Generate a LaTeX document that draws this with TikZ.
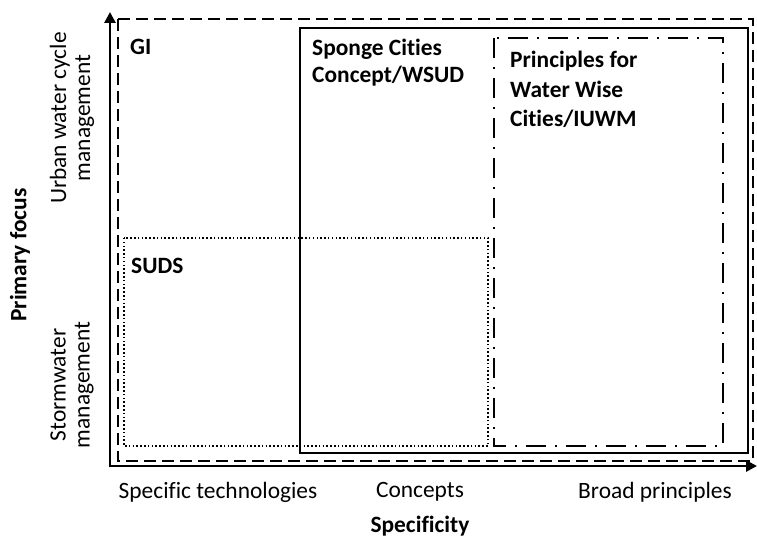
\documentclass[tikz,border=0pt]{standalone}
\usepackage{fontspec}
\setmainfont{Carlito}[Ligatures={NoCommon}]
\usetikzlibrary{arrows.meta}
\begin{document}
\begin{tikzpicture}[x=1bp,y=-1bp,
  lbl/.style={font=\fontsize{23.5}{25}\selectfont, inner sep=0pt},
  boxlbl/.style={inner sep=0pt, anchor=north west, align=left},
  axis/.style={line width=2.8pt, -{Triangle[length=11bp,width=11bp]}},
  outerbox/.style={line width=1.4pt, dash pattern=on 12bp off 6bp},
  conceptbox/.style={line width=1.8pt},
  principlebox/.style={line width=1.8pt, dash pattern=on 20bp off 9bp on 2bp off 9bp},
  sudsbox/.style={line width=1.5pt, dash pattern=on 1.5bp off 2.3bp}]
\useasboundingbox (0,0) rectangle (757,539);

% axes
\coordinate (origin) at (108,466);
\coordinate (ytop) at (110,12);
\coordinate (xend) at (757,466);
\draw[axis] (110,467.4) -- (ytop);
\draw[axis] (108.6,466) -- (xend);

% nested scope boxes
\draw[outerbox] (118,19) rectangle (753,461);
\draw[conceptbox] (300,28) rectangle (748,453);
\draw[principlebox] (494,38) rectangle (723,446);
\draw[sudsbox] (124,238) rectangle (488,446);

% box titles
\node[boxlbl, font=\fontsize{23.5}{27}\selectfont\bfseries] (gi) at (130,39) {GI};
\node[boxlbl, font=\fontsize{23.5}{27}\selectfont\bfseries] (sponge) at (312,39) {Sponge Cities\\Concept/WSUD};
\node[boxlbl, font=\fontsize{23.5}{29.5}\selectfont\bfseries] (ww) at (510,51) {Principles for\\Water Wise\\Cities/IUWM};
\node[boxlbl, font=\fontsize{23.5}{27}\selectfont\bfseries] (suds) at (131,258) {SUDS};

% x-axis categories
\node[lbl] (spec) at (218,492) {Specific technologies};
\node[lbl] (conc) at (420,492) {Concepts};
\node[lbl] (broad) at (655,492) {Broad principles};
\node[lbl, font=\fontsize{23.5}{25}\selectfont\bfseries] (xtitle) at (420,526) {Specificity};

% y-axis categories
\node[lbl, rotate=90, align=center, font=\fontsize{23.5}{24}\selectfont] (urban) at (72,118) {Urban water cycle\\management};
\node[lbl, rotate=90, align=center, font=\fontsize{23.5}{24}\selectfont] (storm) at (72,385) {Stormwater\\management};
\node[lbl, rotate=90, font=\fontsize{23.5}{25}\selectfont\bfseries] (ytitle) at (20,255) {Primary focus};
\end{tikzpicture}
\end{document}
